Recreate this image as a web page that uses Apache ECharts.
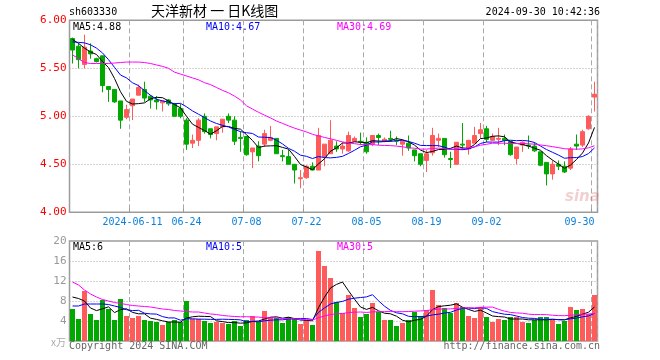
<!DOCTYPE html>
<html><head><meta charset="utf-8">
<script src="https://cdn.jsdelivr.net/npm/echarts@6/dist/echarts.min.js"></script>
<style>html,body{margin:0;padding:0;background:#fff}#c{width:660px;height:360px}</style>
</head><body><div id="c"></div>
<script>
const dates = ['2024-05-27','2024-05-28','2024-05-29','2024-05-30','2024-05-31','2024-06-03','2024-06-04','2024-06-05','2024-06-06','2024-06-07',
'2024-06-11','2024-06-12','2024-06-13','2024-06-14','2024-06-17','2024-06-18','2024-06-19','2024-06-20','2024-06-21','2024-06-24',
'2024-06-25','2024-06-26','2024-06-27','2024-06-28','2024-07-01','2024-07-02','2024-07-03','2024-07-04','2024-07-05','2024-07-08',
'2024-07-09','2024-07-10','2024-07-11','2024-07-12','2024-07-15','2024-07-16','2024-07-17','2024-07-18','2024-07-19','2024-07-22',
'2024-07-23','2024-07-24','2024-07-25','2024-07-26','2024-07-29','2024-07-30','2024-07-31','2024-08-01','2024-08-02','2024-08-05',
'2024-08-06','2024-08-07','2024-08-08','2024-08-09','2024-08-12','2024-08-13','2024-08-14','2024-08-15','2024-08-16','2024-08-19',
'2024-08-20','2024-08-21','2024-08-22','2024-08-23','2024-08-26','2024-08-27','2024-08-28','2024-08-29','2024-08-30','2024-09-02',
'2024-09-03','2024-09-04','2024-09-05','2024-09-06','2024-09-09','2024-09-10','2024-09-11','2024-09-12','2024-09-13','2024-09-18',
'2024-09-19','2024-09-20','2024-09-23','2024-09-24','2024-09-25','2024-09-26','2024-09-27','2024-09-30'];
const opens = [5.81,5.73,5.54,5.68,5.60,5.63,5.31,5.28,5.16,4.99,
5.11,5.22,5.28,5.21,5.17,5.14,5.17,5.13,5.08,4.96,
4.72,4.75,5.00,4.87,4.82,4.89,5.00,4.96,4.78,4.79,
4.63,4.69,4.71,4.75,4.77,4.59,4.58,4.50,4.35,4.36,
4.48,4.44,4.58,4.61,4.69,4.66,4.64,4.74,4.74,4.73,
4.71,4.80,4.74,4.77,4.75,4.71,4.72,4.65,4.61,4.54,
4.62,4.75,4.77,4.56,4.50,4.71,4.66,4.72,4.82,4.87,
4.75,4.76,4.77,4.74,4.56,4.70,4.70,4.69,4.63,4.52,
4.40,4.50,4.48,4.46,4.71,4.70,4.87,5.20];
const closes = [5.69,5.59,5.72,5.65,5.57,5.32,5.28,5.15,4.96,5.07,
5.18,5.30,5.19,5.17,5.15,5.16,5.13,5.00,5.00,4.71,
4.75,4.96,4.84,4.81,4.89,4.97,4.96,4.74,4.77,4.60,
4.67,4.59,4.82,4.78,4.61,4.58,4.50,4.44,4.36,4.48,
4.44,4.80,4.71,4.75,4.66,4.69,4.80,4.77,4.73,4.63,
4.80,4.78,4.76,4.76,4.74,4.74,4.67,4.59,4.50,4.61,
4.80,4.77,4.60,4.55,4.73,4.70,4.75,4.80,4.86,4.76,
4.79,4.77,4.75,4.60,4.68,4.73,4.69,4.64,4.49,4.40,
4.50,4.48,4.42,4.66,4.69,4.84,5.00,5.23];
const lows = [5.55,5.50,5.50,5.60,5.56,5.25,5.15,5.14,4.87,4.97,
4.96,5.22,5.15,5.08,5.07,5.05,5.11,5.00,4.98,4.65,
4.67,4.69,4.82,4.77,4.75,4.83,4.93,4.70,4.63,4.59,
4.46,4.53,4.68,4.74,4.61,4.53,4.50,4.30,4.25,4.35,
4.44,4.44,4.48,4.61,4.63,4.61,4.63,4.74,4.70,4.61,
4.69,4.70,4.73,4.74,4.70,4.59,4.64,4.53,4.48,4.42,
4.59,4.68,4.57,4.46,4.50,4.65,4.60,4.72,4.77,4.73,
4.75,4.70,4.70,4.59,4.50,4.63,4.66,4.63,4.48,4.28,
4.34,4.44,4.41,4.44,4.65,4.68,4.86,5.05];
const highs = [5.82,5.76,5.85,5.76,5.61,5.63,5.31,5.28,5.16,5.12,
5.18,5.33,5.36,5.22,5.21,5.16,5.18,5.14,5.13,4.98,
4.81,4.98,5.03,4.87,4.89,4.97,5.03,5.00,4.84,4.79,
4.67,4.74,4.86,4.90,4.77,4.65,4.65,4.50,4.44,4.49,
4.52,4.88,4.71,4.96,4.74,4.73,4.84,4.79,4.83,4.78,
4.80,4.82,4.78,4.85,4.79,4.75,4.80,4.65,4.61,4.65,
4.88,4.82,4.77,4.63,4.73,4.93,4.75,4.89,4.93,4.90,
4.82,4.88,4.81,4.74,4.68,4.74,4.80,4.73,4.63,4.52,
4.54,4.54,4.53,4.68,4.81,4.86,5.01,5.36];
const volumes = [6.4,4.4,10.0,5.4,4.2,8.2,6.4,4.2,8.4,5.0,
4.6,5.0,4.2,4.0,3.8,3.2,3.8,4.2,3.8,8.0,
4.4,4.4,4.0,3.6,3.8,3.6,3.4,4.0,3.0,4.2,
5.0,3.8,6.0,4.8,4.6,3.6,4.8,4.6,3.4,4.2,
3.2,18.0,15.0,12.6,7.8,5.6,9.2,6.6,4.8,5.4,
7.6,5.8,4.2,4.2,3.0,3.6,4.2,5.8,5.0,6.2,
10.2,7.2,6.6,5.6,7.6,6.8,5.0,4.6,6.8,4.8,
3.8,4.4,4.2,4.8,4.8,3.8,3.6,4.2,4.8,4.8,
4.2,3.4,4.0,6.8,6.2,6.4,5.4,9.2];
// moving-average values for the days before enough history is shown
const priceMa5Head = [5.80,5.76,5.71,5.67];
const priceMa10Head = [5.775,5.77,5.765,5.745,5.71,5.66,5.59,5.51,5.43];
const priceMa30Head = [5.64,5.60,5.56,5.55,5.55,5.55,5.55,5.555,5.56,5.565,5.565,5.565,5.56,5.55,5.535,5.52,5.50,5.46,5.44,5.42,5.40,5.38,5.35,5.33,5.30,5.27,5.245,5.21,5.17];
const volMa5Head = [8.8,8.5,8.0,6.6];
const volMa10Head = [7.0,7.0,7.4,7.4,7.4,7.4,7.3,7.0,6.7];
const volMa30Head = [11.8,11.2,10.2,9.4,8.8,8.3,8.0,7.7,7.5,7.3,7.1,7.0,6.9,6.8,6.6,6.4,6.3,6.1,6.0,5.9,5.8,5.8,5.6,5.4,5.3,5.1,5.0,4.9,4.85];
const labelIdx = [10,19,29,39,49,59,69,87];

function ma(arr, n, head){
  return arr.map((v,i)=>{
    if(i < n-1) return head[i];
    let s=0; for(let k=i-n+1;k<=i;k++) s+=arr[k];
    return +(s/n).toFixed(4);
  });
}
const pMa5 = ma(closes,5,priceMa5Head), pMa10 = ma(closes,10,priceMa10Head), pMa30 = ma(closes,30,priceMa30Head);
const vMa5 = ma(volumes,5,volMa5Head), vMa10 = ma(volumes,10,volMa10Head), vMa30 = ma(volumes,30,volMa30Head);
const last = a => a[a.length-1];

const RED='#ff5b5b', GREEN='#00a800', BLUE='#0000ff', MAG='#ff00ff';
const mono='DejaVu Sans Mono';
const F10='10px "DejaVu Sans Mono"';
const isLbl = i => labelIdx.indexOf(i) >= 0;
const dash = {show:true, interval:(i)=>isLbl(i), lineStyle:{color:'#aaa', type:[5,3], width:1}};

const chart = echarts.init(document.getElementById('c'), null, {renderer:'canvas'});
chart.setOption({
  animation:false,
  grid:[
    {left:69.5, right:62.5, top:20.3, height:192, show:true, borderColor:'#9c9c9c', borderWidth:1.5, backgroundColor:'transparent'},
    {left:69.5, right:62.5, top:241, height:100, show:true, borderColor:'#9c9c9c', borderWidth:1.5, backgroundColor:'transparent'}
  ],
  xAxis:[
    {type:'category', gridIndex:0, data:dates, boundaryGap:true,
     axisLine:{show:false},
     axisTick:{show:true, inside:true, length:4, interval:(i)=>isLbl(i), lineStyle:{color:'#999'}},
     axisLabel:{interval:(i)=>isLbl(i), formatter:(v,i)=> i===labelIdx[0] ? v : v.slice(5),
       color:'#0a80dc', fontFamily:mono, fontSize:10, margin:5, alignMaxLabel:'right'},
     splitLine:dash},
    {type:'category', gridIndex:1, data:dates, boundaryGap:true,
     axisLine:{show:false}, axisTick:{show:false}, axisLabel:{show:false}, splitLine:dash}
  ],
  yAxis:[
    {type:'value', gridIndex:0, min:4, max:6, interval:0.5, axisLine:{show:false}, axisTick:{show:false},
     axisLabel:{color:'#ff0000', fontFamily:mono, fontSize:11, margin:3, formatter:v=>v.toFixed(2)},
     splitLine:{show:true, showMinLine:false, showMaxLine:false, lineStyle:{color:'#aaa', type:[1,2]}}},
    {type:'value', gridIndex:1, min:0, max:20, interval:4, axisLine:{show:false}, axisTick:{show:false},
     axisLabel:{color:'#999', fontFamily:mono, fontSize:11, margin:3, formatter:v=> v===0 ? '' : String(v)},
     splitLine:{show:true, showMinLine:false, showMaxLine:false, lineStyle:{color:'#aaa', type:[1,2]}}}
  ],
  series:[
    {type:'candlestick', xAxisIndex:0, yAxisIndex:0, barWidth:4,
     data: dates.map((d,i)=>[opens[i], closes[i], lows[i], highs[i]]),
     itemStyle:{color:RED, color0:GREEN, borderColor:RED, borderColor0:GREEN, borderWidth:1}},
    {type:'line', xAxisIndex:0, yAxisIndex:0, data:pMa5, symbol:'none', lineStyle:{color:'#000', width:1}},
    {type:'line', xAxisIndex:0, yAxisIndex:0, data:pMa10, symbol:'none', lineStyle:{color:BLUE, width:1}},
    {type:'line', xAxisIndex:0, yAxisIndex:0, data:pMa30, symbol:'none', lineStyle:{color:MAG, width:1}},
    {type:'bar', xAxisIndex:1, yAxisIndex:1, barWidth:5,
     data: volumes.map((v,i)=>({value:v, itemStyle:{color: closes[i] >= opens[i] ? RED : GREEN}}))},
    {type:'line', xAxisIndex:1, yAxisIndex:1, data:vMa5, symbol:'none', lineStyle:{color:'#000', width:1}},
    {type:'line', xAxisIndex:1, yAxisIndex:1, data:vMa10, symbol:'none', lineStyle:{color:BLUE, width:1}},
    {type:'line', xAxisIndex:1, yAxisIndex:1, data:vMa30, symbol:'none', lineStyle:{color:MAG, width:1}}
  ],
  graphic:[
    {type:'text', left:69, top:7, style:{text:'sh603330', font:F10, fill:'#000'}},
    {type:'text', left:151, top:4, style:{text:'天洋新材 一 日K线图', font:'14px "Noto Sans CJK SC"', fill:'#000'}},
    {type:'text', right:60, top:7, style:{text:'2024-09-30 10:42:36', font:F10, fill:'#000'}},
    {type:'text', left:73, top:22, z:10, style:{text:'MA5:'+last(pMa5).toFixed(2), font:F10, fill:'#000'}},
    {type:'text', left:206, top:22, z:10, style:{text:'MA10:'+last(pMa10).toFixed(2), font:F10, fill:BLUE}},
    {type:'text', left:337, top:22, z:10, style:{text:'MA30:'+last(pMa30).toFixed(2), font:F10, fill:MAG}},
    {type:'text', left:73, top:242, z:10, style:{text:'MA5:'+Math.floor(last(vMa5)), font:F10, fill:'#000'}},
    {type:'text', left:206, top:242, z:10, style:{text:'MA10:'+Math.floor(last(vMa10)), font:F10, fill:BLUE}},
    {type:'text', left:337, top:242, z:10, style:{text:'MA30:'+Math.floor(last(vMa30)), font:F10, fill:MAG}},
    {type:'text', right:594, top:337, style:{text:'x万', font:'10px "Noto Sans CJK SC"', fill:'#aaa'}},
    {type:'text', left:69, top:341, style:{text:'Copyright 2024 SINA.COM', font:F10, fill:'#666'}},
    {type:'text', right:60, top:341, style:{text:'http://finance.sina.com.cn', font:F10, fill:'#666'}},
    {type:'text', left:565, top:190, z:1, style:{text:'sina', font:'italic bold 15px "DejaVu Sans"', fill:'rgba(215,120,120,0.35)'}}
  ]
});
</script></body></html>
